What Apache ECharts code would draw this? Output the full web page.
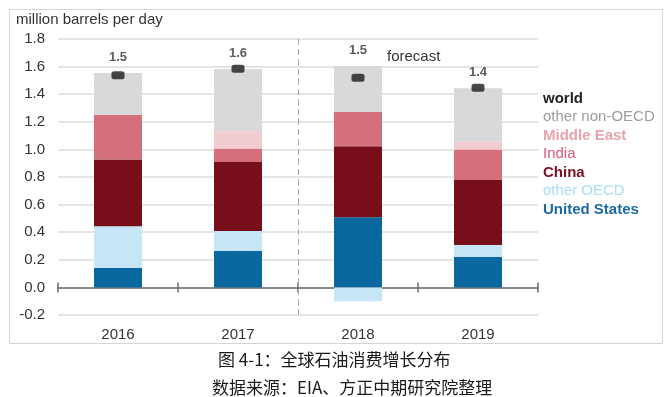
<!DOCTYPE html>
<html>
<head>
<meta charset="utf-8">
<script src="https://cdn.jsdelivr.net/npm/echarts@6/dist/echarts.min.js"></script>
<style>
  html, body { margin: 0; padding: 0; background: #fff; }
  #chart { width: 666px; height: 397px; }
</style>
</head>
<body>
<div id="chart"></div>
<script>
  // values, million barrels per day
  let years = ['2016', '2017', '2018', '2019'];
  let unitedStates = [0.143, 0.265, 0.508, 0.221];
  let otherOECD = [0.301, 0.143, -0.10, 0.087];
  let china = [0.483, 0.500, 0.514, 0.471];
  let india = [0.323, 0.099, 0.250, 0.221];
  let middleEast = [0, 0.124, 0, 0.058];
  let otherNonOECD = [0.303, 0.452, 0.332, 0.386];
  let world = [1.537, 1.585, 1.52, 1.447];
  let worldLabels = ['1.5', '1.6', '1.5', '1.4'];
  let forecastFrom = 2; // forecast starts at the 3rd year

  let font = 'Liberation Sans, Arial, sans-serif';
  let chart = echarts.init(document.getElementById('chart'));

  function bar (name, data, color) {
    return {
      name: name,
      type: 'bar',
      stack: 'total',
      barWidth: 48,
      data: data,
      itemStyle: { color: color },
      emphasis: { disabled: true }
    };
  }

  let topBar = bar('other non-OECD', otherNonOECD, '#d9d9db');
  topBar.label = {
    show: true,
    position: 'top',
    distance: 9,
    color: '#5e5e5e',
    fontFamily: font,
    fontSize: 13,
    fontWeight: 'bold',
    formatter: p => worldLabels[p.dataIndex]
  };

  let tickStyle = { color: '#6b6b6b', width: 1.5 };

  let option = {
    animation: false,
    textStyle: { fontFamily: font },
    grid: { left: 58, right: 128, top: 39, bottom: 82 },
    legend: {
      orient: 'vertical',
      left: 533,
      top: 86,
      icon: 'none',
      itemWidth: 0,
      itemHeight: 14,
      itemGap: 3.5,
      selectedMode: false,
      textStyle: { fontFamily: font, fontSize: 15 },
      data: [
        { name: 'world', textStyle: { color: '#222222', fontWeight: 'bold' } },
        { name: 'other non-OECD', textStyle: { color: '#9c9c9c' } },
        { name: 'Middle East', textStyle: { color: '#e8a3ae', fontWeight: 'bold' } },
        { name: 'India', textStyle: { color: '#d65c76' } },
        { name: 'China', textStyle: { color: '#7a1020', fontWeight: 'bold' } },
        { name: 'other OECD', textStyle: { color: '#a9dcf5' } },
        { name: 'United States', textStyle: { color: '#1c6aa0', fontWeight: 'bold' } }
      ]
    },
    xAxis: [
      {
        type: 'category',
        data: years,
        axisLine: { onZero: true, lineStyle: tickStyle },
        axisTick: { show: true, length: 5, lineStyle: tickStyle },
        axisLabel: { margin: 12, color: '#333', fontSize: 15 },
        splitLine: { show: false }
      },
      {
        // same span as the categories, used for the upward ticks and the forecast divider
        type: 'value',
        min: 0,
        max: years.length,
        interval: 1,
        position: 'top',
        axisLine: { show: false, onZero: true, onZeroAxisIndex: 0 },
        axisTick: { show: true, length: 5, lineStyle: tickStyle },
        axisLabel: { show: false },
        splitLine: { show: false }
      }
    ],
    yAxis: {
      type: 'value',
      min: -0.2,
      max: 1.8,
      interval: 0.2,
      axisLine: { show: false },
      axisTick: { show: false },
      axisLabel: {
        color: '#333',
        fontSize: 15,
        margin: 13,
        formatter: v => v.toFixed(1)
      },
      splitLine: { lineStyle: { color: '#dcdcdc', width: 1.5 } }
    },
    series: [
      bar('United States', unitedStates, '#0b689f'),
      bar('other OECD', otherOECD, '#c6e6f8'),
      bar('China', china, '#760f19'),
      bar('India', india, '#d4707b'),
      bar('Middle East', middleEast, '#f3ccd2'),
      topBar,
      {
        name: 'world',
        type: 'scatter',
        xAxisIndex: 1,
        data: world.map((v, i) => [i + 0.5, v]),
        symbol: 'roundRect',
        symbolSize: [13, 8],
        itemStyle: { color: '#1b1b1b' },
        z: 5,
        markLine: {
          silent: true,
          symbol: 'none',
          label: { show: false },
          lineStyle: { color: '#a9a9a9', type: [6, 4], width: 1 },
          data: [{ xAxis: forecastFrom }]
        }
      }
    ],
    graphic: [
      {
        type: 'rect',
        shape: { x: 9.5, y: 9.5, width: 653, height: 334 },
        style: { fill: 'none', stroke: '#d4d4d4', lineWidth: 1 },
        silent: true
      },
      {
        type: 'text',
        left: 16,
        top: 12,
        style: { text: 'million barrels per day', fill: '#333', font: '15px ' + font }
      },
      {
        type: 'text',
        left: 387,
        top: 49,
        style: { text: 'forecast', fill: '#333', font: '15px ' + font }
      },
      {
        type: 'text',
        left: 218,
        top: 351,
        style: {
          text: '图 4-1：全球石油消费增长分布',
          fill: '#1a1a1a',
          font: '17px "Noto Sans CJK SC", sans-serif'
        }
      },
      {
        type: 'text',
        left: 212,
        top: 379,
        style: {
          text: '数据来源：EIA、方正中期研究院整理',
          fill: '#1a1a1a',
          font: '17px "Noto Sans CJK SC", sans-serif'
        }
      }
    ]
  };

  chart.setOption(option);
</script>
</body>
</html>
